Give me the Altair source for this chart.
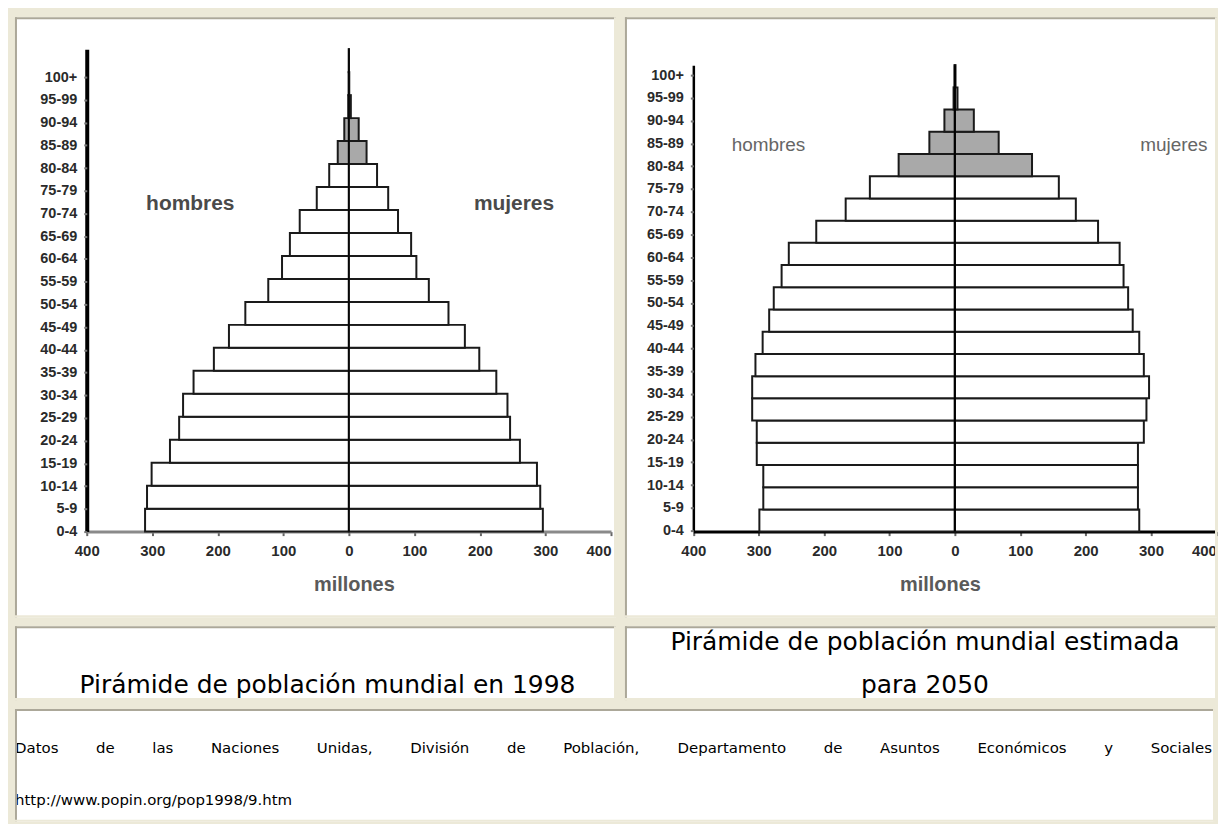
import altair as alt
import pandas as pd

# ---------------- data ----------------
ages = ["0-4", "5-9", "10-14", "15-19", "20-24", "25-29", "30-34", "35-39",
        "40-44", "45-49", "50-54", "55-59", "60-64", "65-69", "70-74", "75-79",
        "80-84", "85-89", "90-94", "95-99", "100+"]
# millones
hombres_1998 = [311, 308, 301, 273, 259, 253, 237, 206, 183, 158, 123, 102, 90, 75, 49, 30, 17, 7, 1, 0.3, 0.1]
mujeres_1998 = [296, 292, 287, 261, 246, 242, 225, 199, 177, 152, 122, 103, 95, 75, 60, 43, 27, 15, 3, 0.6, 0.1]
hombres_2050 = [299, 293, 293, 303, 303, 310, 310, 305, 294, 284, 277, 265, 254, 212, 167, 130, 86, 39, 16, 2, 0.5]
mujeres_2050 = [282, 280, 280, 280, 289, 293, 297, 289, 282, 272, 265, 258, 252, 219, 185, 159, 118, 67, 29, 4, 1]
x_ticks = [-400, -300, -200, -100, 0, 100, 200, 300, 400]
caption_1998 = ["Pirámide de población mundial en 1998"]
caption_2050 = ["Pirámide de población mundial estimada", "para 2050"]
source_line = "Datos de las Naciones Unidas, División de Población, Departamento de Asuntos Económicos y Sociales"
source_url = "http://www.popin.org/pop1998/9.htm"

# ---------------- styling ----------------
BEIGE = "#ECE9D8"
DARK = "#ACA899"
GRAY_FILL = "#A9A9A9"
TXT_FONT = "DejaVu Sans"
CHART_FONT = "Liberation Sans"

W1, W2 = 603, 594
H1, H2, H3 = 602, 74, 113
WS = W1 + 7 + W2
one = pd.DataFrame({"k": [0]})


def frame(W, H):
    top = alt.Chart(one).mark_rule(color=DARK, strokeWidth=2).encode(
        x=alt.value(0), x2=alt.value(W), y=alt.value(1))
    left = alt.Chart(one).mark_rule(color=DARK, strokeWidth=2).encode(
        x=alt.value(1), y=alt.value(0), y2=alt.value(H))
    bottom = alt.Chart(one).mark_rule(color=BEIGE, strokeWidth=2).encode(
        x=alt.value(0), x2=alt.value(W), y=alt.value(H - 1))
    right = alt.Chart(one).mark_rule(color=BEIGE, strokeWidth=2).encode(
        x=alt.value(W - 1), y=alt.value(0), y2=alt.value(H))
    return [top, left, bottom, right]


def pyramid(m, f, W, H, xr, yr, lr, xdom_color, ydom_w, center_w, title_x,
            hx, mx, lab_age, lab_dy, lab_size, lab_weight, lab_color):
    rows = []
    for i, a in enumerate(ages):
        rows.append(dict(age=a, sexo="hombres", v=-m[i], old=i >= 16))
        rows.append(dict(age=a, sexo="mujeres", v=f[i], old=i >= 16))
    df = pd.DataFrame(rows)
    xs = alt.Scale(domain=[-400, 400], range=xr, nice=False, zero=False)
    ys = alt.Scale(domain=ages[::-1], range=yr, paddingInner=0, paddingOuter=0)
    bars = alt.Chart(df).mark_bar(stroke="#1a1a1a", strokeWidth=2).encode(
        x=alt.X("v:Q", scale=xs, title="millones",
                axis=alt.Axis(values=x_ticks, labelExpr="format(abs(datum.value), 'd')", grid=False,
                              offset=yr[1] - H, domainColor=xdom_color, domainWidth=3,
                              tickColor="#666", tickWidth=2, tickSize=4,
                              labelAlign=alt.condition("datum.value == 400",
                                                       alt.value("right"), alt.value("center")),
                              labelFont=CHART_FONT, labelFontSize=15, labelFontWeight="bold",
                              labelColor="#2a2a2a", labelPadding=8,
                              titleFont=CHART_FONT, titleFontSize=20, titleFontWeight="bold",
                              titleColor="#5a5a5a", titlePadding=16, titleX=title_x)),
        x2=alt.datum(0),
        y=alt.Y("age:N", scale=ys, title=None,
                axis=alt.Axis(orient="left", offset=-xr[0], labels=False, ticks=False,
                              domainColor="black", domainWidth=ydom_w)),
        fill=alt.condition("datum.old", alt.value(GRAY_FILL), alt.value("white")),
    )
    center = alt.Chart(one).mark_rule(color="black", strokeWidth=center_w).encode(
        x=alt.datum(0), y=alt.value(yr[0]), y2=alt.value(yr[1]))
    lab_df = pd.DataFrame({"t": ["hombres", "mujeres"], "x": [hx, mx], "age": [lab_age, lab_age]})
    labels = alt.Chart(lab_df).mark_text(font=CHART_FONT, fontSize=lab_size, fontWeight=lab_weight,
                                         color=lab_color, dy=lab_dy).encode(
        x="x:Q", y="age:N", text="t:N")
    # age-group labels on their own point scale (as spaced in the picture)
    age_axis = alt.Chart(df).mark_point(opacity=0).encode(
        y=alt.Y("age:N", title=None,
                scale=alt.Scale(type="point", domain=ages[::-1], range=lr, padding=0),
                axis=alt.Axis(orient="left", offset=-xr[0], domain=False,
                              tickColor="#777", tickWidth=2, tickSize=3,
                              labelFont=CHART_FONT, labelFontSize=14.5, labelFontWeight="bold",
                              labelColor="#2a2a2a", labelPadding=7)))
    inner = alt.layer(bars, center, labels, *frame(W, H))
    return alt.layer(inner, age_axis).resolve_scale(y="independent").properties(width=W, height=H)


left = pyramid(hombres_1998, mujeres_1998, W1, H1, xr=[72, 598], yr=[32, 516], lr=[60, 516],
               xdom_color="#8a8a8a", ydom_w=4, center_w=1.2, title_x=340, hx=-242, mx=252,
               lab_age="70-74", lab_dy=6, lab_size=21, lab_weight="bold", lab_color="#4a4a4a")
right = pyramid(hombres_2050, mujeres_2050, W2, H1, xr=[68.6, 593.4], yr=[48, 516], lr=[58, 515],
                xdom_color="black", ydom_w=2.5, center_w=2, title_x=316, hx=-285, mx=335,
                lab_age="85-89", lab_dy=2, lab_size=19, lab_weight="normal", lab_color="#666")


def caption(lines, W, ys, xc):
    d = pd.DataFrame({"t": lines, "y": ys[:len(lines)]})
    txt = alt.Chart(d).mark_text(font=TXT_FONT, fontSize=25, color="black", baseline="middle").encode(
        x=alt.value(xc),
        y=alt.Y("y:Q", scale=alt.Scale(domain=[0, H2], range=[0, H2]), axis=None),
        text="t:N")
    return alt.layer(txt, *frame(W, H2)).properties(width=W, height=H2)


cap1 = caption(caption_1998, W1, [59], W1 / 2 + 12)
cap2 = caption(caption_2050, W2, [16, 59], W2 / 2 + 4)

# justified source line (DejaVu Sans advance widths, em units)
ADV = {" ": .318, ",": .318, ".": .318, "/": .337, ":": .337, "-": .361,
       "a": .613, "b": .635, "c": .550, "d": .635, "e": .615, "f": .352, "g": .635, "h": .634,
       "i": .278, "j": .278, "k": .579, "l": .278, "m": .974, "n": .634, "o": .612, "p": .635,
       "q": .635, "r": .411, "s": .521, "t": .392, "u": .634, "v": .592, "w": .818, "x": .592,
       "y": .592, "z": .525, "A": .684, "D": .770, "E": .632, "N": .748, "P": .603, "S": .635,
       "U": .732}
ACC = {"ó": "o", "í": "i", "á": "a", "é": "e"}
SRC_SIZE = 15


def tw(s):
    return sum(ADV.get(ACC.get(c, c), 0.636) for c in s) * SRC_SIZE


words = source_line.split()
x0, x1 = 0, WS - 3
gap = (x1 - x0 - sum(tw(w) for w in words)) / (len(words) - 1)
pos, cur = [], x0
for w in words:
    pos.append(cur)
    cur += tw(w) + gap
src_df = pd.DataFrame({"t": words + [source_url], "x": pos + [x0],
                       "y": [39] * len(words) + [91]})
src_text = alt.Chart(src_df).mark_text(font=TXT_FONT, fontSize=SRC_SIZE, color="black",
                                       align="left", baseline="middle").encode(
    x=alt.X("x:Q", scale=alt.Scale(domain=[0, WS], range=[0, WS]), axis=None),
    y=alt.Y("y:Q", scale=alt.Scale(domain=[0, H3], range=[0, H3]), axis=None),
    text="t:N")
source = alt.layer(src_text, *frame(WS, H3)).properties(width=WS, height=H3)

chart = alt.vconcat(
    alt.hconcat(left, right, spacing=7),
    alt.hconcat(cap1, cap2, spacing=7),
    source,
    spacing=7,
).properties(
    background=BEIGE,
    padding={"left": 6, "top": 7, "right": 0, "bottom": 0},
).configure_view(fill="white", strokeWidth=0)

chart.save("out.html", embed_options={"renderer": "svg", "actions": False})
